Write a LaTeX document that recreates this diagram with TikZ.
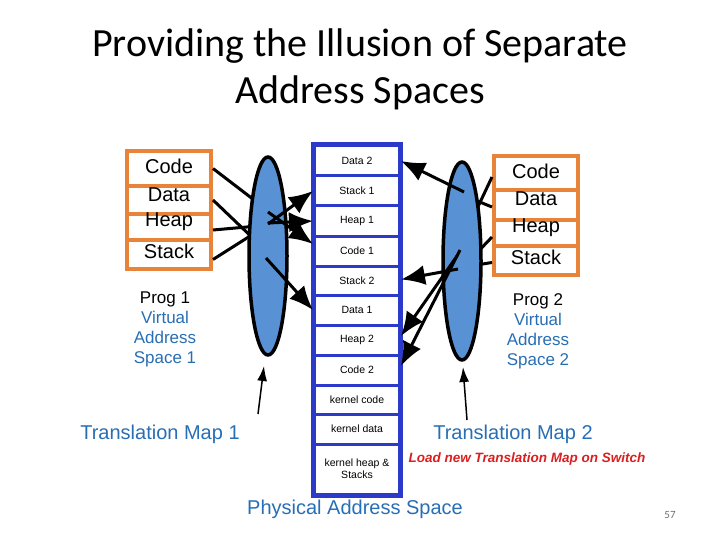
\documentclass[tikz,border=0pt]{standalone}
\usepackage{fontspec}
\setmainfont{Liberation Sans}
\newfontfamily\calib{Carlito}
\usetikzlibrary{shapes.geometric,arrows.meta}
\definecolor{physblue}{RGB}{43,58,200}
\definecolor{boxorange}{RGB}{232,131,58}
\definecolor{ellfill}{RGB}{88,146,212}
\definecolor{txtblue}{RGB}{40,110,180}
\definecolor{loadred}{RGB}{220,30,30}
\definecolor{pggray}{RGB}{110,110,110}
\begin{document}
\begin{tikzpicture}[x=1pt,y=-1pt,
  physrow/.style={draw=physblue,line width=3pt,fill=white,minimum width=85pt,inner sep=0pt,font=\fontsize{10.5}{12}\selectfont,align=center},
  obox/.style={draw=boxorange,line width=4pt,fill=white,minimum width=84pt,inner sep=0pt},
  otext/.style={font=\fontsize{20}{22}\selectfont,inner sep=0pt},
  vas/.style={ellipse,draw=black,line width=3.5pt,fill=ellfill,minimum width=38pt,minimum height=198pt,inner sep=0pt},
  map/.style={line width=3pt,-{Latex[length=24pt,width=20pt]}},
  feed/.style={line width=3pt},
  ptr/.style={line width=1.5pt,-{Latex[length=15pt,width=10pt]}},
  bluetxt/.style={text=txtblue,font=\fontsize{20}{22}\selectfont,inner sep=0pt},
  progtxt/.style={font=\fontsize{17}{20}\selectfont,align=center,inner sep=0pt},
]
\useasboundingbox (0,0) rectangle (720,540);
% title
\node[font=\calib\fontsize{40}{48}\selectfont,anchor=base] (t1) at (360,57) {Providing the Illusion of Separate};
\node[font=\calib\fontsize{40}{48}\selectfont,anchor=base] (t2) at (360,104) {Address Spaces};
% physical memory
\node[physrow,minimum height=30pt] (data2) at (357,161) {Data 2};
\node[physrow,minimum height=30pt] (stack1) at (357,191) {Stack 1};
\node[physrow,minimum height=30pt] (heap1) at (357,221) {Heap 1};
\node[physrow,minimum height=30pt] (code1) at (357,251) {Code 1};
\node[physrow,minimum height=29pt] (stack2) at (357,280.5) {Stack 2};
\node[physrow,minimum height=30pt] (data1) at (357,310) {Data 1};
\node[physrow,minimum height=30pt] (heap2) at (357,340) {Heap 2};
\node[physrow,minimum height=30pt] (code2) at (357,370) {Code 2};
\node[physrow,minimum height=29pt] (kcode) at (357,399.5) {kernel code};
\node[physrow,minimum height=30pt] (kdata) at (357,429) {kernel data};
\node[physrow,minimum height=50pt] (kheap) at (357,469) {kernel heap \&\\Stacks};
\draw[physblue,line width=4.5pt] (data2.north west) rectangle (kheap.south east);
% left program boxes
\node[obox,minimum height=35pt] (lcode) at (169,168.5) {};
\node[obox,minimum height=28pt] (ldata) at (169,200) {};
\node[obox,minimum height=26pt] (lheap) at (169,227) {};
\node[obox,minimum height=29pt] (lstack) at (169,254.5) {};
\node[otext] (lcodet) at (169,166) {Code};
\node[otext] (ldatat) at (169,195) {Data};
\node[otext] (lheapt) at (169,222) {Heap};
\node[otext] (lstackt) at (169,251) {Stack};
% right program boxes
\node[obox,minimum height=34pt] (rcode) at (536,173) {};
\node[obox,minimum height=30pt] (rdata) at (536,205) {};
\node[obox,minimum height=26pt] (rheap) at (536,233) {};
\node[obox,minimum height=29pt] (rstack) at (536,260.5) {};
\node[otext] (rcodet) at (536,171) {Code};
\node[otext] (rdatat) at (536,199) {Data};
\node[otext] (rheapt) at (536,228) {Heap};
\node[otext] (rstackt) at (536,257) {Stack};
% feed lines (under ellipses)
\coordinate (f1) at (258,203);
\coordinate (f2) at (258,243);
\coordinate (f3) at (258,226);
\coordinate (f4) at (258,231);
\draw[feed] (lcode.east) -- (f1);
\draw[feed] (ldata.east) -- (f2);
\draw[feed] ([yshift=-3pt]lheap.east) -- (f3);
\draw[feed] ([yshift=-5pt]lstack.east) -- (f4);
\coordinate (g1) at (475,213);
\coordinate (g2) at (470,198);
\coordinate (g3) at (472,258);
\coordinate (g4) at (470,266);
\draw[feed] ([yshift=-4pt]rcode.west) -- (g1);
\draw[feed] ([yshift=-2pt]rdata.west) -- (g2);
\draw[feed] ([yshift=-4pt]rheap.west) -- (g3);
\draw[feed] ([yshift=-2pt]rstack.west) -- (g4);
% ellipses
\node[vas] (e1) at (268,256) {};
\node[vas] (e2) at (462,261) {};
% mapping arrows
\coordinate (la) at (268,224);
\coordinate (lb) at (268,212);
\coordinate (lc) at (268,223);
\coordinate (ld) at (266,258);
\draw[map] (la) -- (stack1.west);
\draw[map] (lb) -- ([yshift=7pt]code1.west);
\draw[map] (lc) -- (heap1.west);
\draw[map] (ld) -- (data1.west);
\coordinate (ra) at (464,192);
\coordinate (rb) at (458,269);
\coordinate (rc) at (457,256);
\coordinate (rd) at (460,250);
\draw[map] (ra) -- (data2.east);
\draw[map] (rb) -- ([yshift=1pt]stack2.east);
\draw[map] (rc) -- ([yshift=4pt]heap2.east);
\draw[map] (rd) -- ([yshift=4pt]code2.east);
% translation map pointers
\coordinate (p1) at (258,414);
\coordinate (p1t) at (264,366);
\coordinate (p2) at (467,420);
\coordinate (p2t) at (463,367);
\draw[ptr] (p1) -- (p1t);
\draw[ptr] (p2) -- (p2t);
% labels
\node[progtxt] (prog1) at (165,329) {Prog 1\\\textcolor{txtblue}{Virtual}\\\textcolor{txtblue}{Address}\\\textcolor{txtblue}{Space 1}};
\node[progtxt] (prog2) at (538,331) {Prog 2\\\textcolor{txtblue}{Virtual}\\\textcolor{txtblue}{Address}\\\textcolor{txtblue}{Space 2}};
\node[bluetxt] (tm1) at (160,434) {Translation Map 1};
\node[bluetxt] (tm2) at (513,434) {Translation Map 2};
\node[text=loadred,font=\fontsize{13.5}{15}\selectfont\bfseries\itshape,inner sep=0pt] (load) at (527,459) {Load new Translation Map on Switch};
\node[bluetxt] (pas) at (355,509) {Physical Address Space};
\node[text=pggray,font=\calib\fontsize{11}{13}\selectfont,inner sep=0pt] (pg) at (670,515) {57};
\end{tikzpicture}
\end{document}
